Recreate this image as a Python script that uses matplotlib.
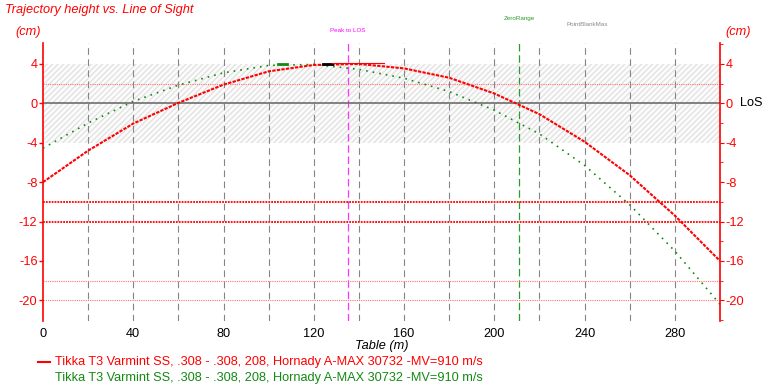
from matplotlib import pyplot as plt
from matplotlib.ticker import MultipleLocator

plt.rcParams['font.family'] = ['Liberation Sans', 'DejaVu Sans']

# range in m
distance = [0, 20, 40, 60, 80, 100, 120, 140, 160, 180, 200, 220, 240, 260, 280, 300]
# trajectory height vs line of sight (cm)
height_red = [-8.0, -4.8, -2.05, 0.05, 1.9, 3.25, 3.9, 4.0, 3.55, 2.6, 1.0, -1.1, -3.9, -7.3, -11.4, -16.0]
height_green = [-4.55, -2.0, 0.2, 1.85, 3.1, 3.85, 3.95, 3.45, 2.55, 1.2, -0.7, -3.1, -6.3, -10.3, -15.0, -20.4]

x_ticks = [0, 40, 80, 120, 160, 200, 240, 280]
y_ticks = [4, 0, -4, -8, -12, -16, -20]
grid_x = list(range(20, 300, 20))

peak_to_los = 135
zero_range = 211
point_blank_max = 241
kill_zone = [-4, 4]
red_levels_thin = [2, -18, -20]
red_levels_bold = [-10, -12]

legend_label = "Tikka T3 Varmint SS, .308 - .308, 208, Hornady A-MAX 30732 -MV=910 m/s"

RED = '#ff0000'
GREEN = '#138a13'
FS = 9.2

fig = plt.figure(figsize=(7.64, 3.89), dpi=100)
ax = fig.add_axes([0.0563, 0.1748, 0.8861, 0.7147])
ax.set_xlim(0, 300)
ax.set_ylim(-22.1, 6.13)

# shaded band around the line of sight
ax.axhspan(kill_zone[0], kill_zone[1], facecolor='#fcfcfc', edgecolor='#e2e2e2',
           hatch='//////', lw=0, zorder=0)

for gx in grid_x:
    ax.axvline(gx, color='#858585', lw=0.8, ls=(0, (6, 4)), zorder=1)
ax.axvline(peak_to_los, color='#ff33ff', lw=0.9, ls=(0, (6, 3)), zorder=1)
ax.axvline(zero_range, color='#2e9a2e', lw=0.9, ls=(0, (6, 3)), zorder=1)

for yl in red_levels_thin:
    ax.axhline(yl, color='#ff7070', lw=0.8, ls=(0, (1, 1)), zorder=1)
for yl in red_levels_bold:
    ax.axhline(yl, color=RED, lw=1.3, ls=(0, (1, 0.6)), zorder=1)
ax.axhline(0, color='#6e6e6e', lw=1.2, zorder=1)

ax.plot(distance, height_green, color=GREEN, lw=1.2, ls=(0, (1, 3)), zorder=3)
ax.plot(distance, height_red, color=RED, lw=1.5, ls=(0, (1.6, 0.6)), zorder=4)

# little peak markers
ax.plot([104, 108], [4, 4], color=GREEN, lw=2, zorder=5)
ax.plot([124, 128], [4, 4], color='black', lw=2, zorder=5)
ax.plot([128, 151], [4.05, 4.05], color=RED, lw=0.8, zorder=5)

ax.text(peak_to_los, 7.35, 'Peak to LOS', color='#ff00ff', fontsize=4.5, ha='center', va='center')
ax.text(zero_range, 8.58, 'ZeroRange', color='#2e9a2e', fontsize=4.5, ha='center', va='center')
ax.text(point_blank_max, 7.97, 'PointBlankMax', color='#8a8a8a', fontsize=4.5, ha='center', va='center')

ax.spines['top'].set_visible(False)
ax.spines['bottom'].set_visible(False)
ax.spines['right'].set_visible(False)
ax.spines['left'].set_color(RED)
ax.spines['left'].set_linewidth(1.2)

ax.set_xticks(x_ticks)
ax.tick_params(axis='x', length=0, pad=5, labelsize=FS)
ax.set_yticks(y_ticks)
ax.set_yticklabels([str(v) for v in y_ticks])
ax.tick_params(axis='y', colors=RED, length=3, pad=1, labelsize=FS, width=1)

ax2 = ax.twinx()
ax2.set_ylim(ax.get_ylim())
for s in ['top', 'bottom', 'left']:
    ax2.spines[s].set_visible(False)
ax2.spines['right'].set_color(RED)
ax2.spines['right'].set_linewidth(1.2)
ax2.set_yticks(y_ticks)
ax2.set_yticklabels([str(v) for v in y_ticks])
ax2.yaxis.set_minor_locator(MultipleLocator(2))
ax2.tick_params(axis='y', which='major', colors=RED, length=3, pad=1, labelsize=FS)
ax2.tick_params(axis='y', which='minor', colors=RED, length=2)
ax2.text(1.03, (0 - ax.get_ylim()[0]) / (ax.get_ylim()[1] - ax.get_ylim()[0]), 'LoS',
         transform=ax2.transAxes, fontsize=FS, va='center', ha='left')

ax.set_xlabel('Table (m)', fontsize=FS, style='italic', labelpad=0)

fig.text(0.007, 0.975, 'Trajectory height vs. Line of Sight', color=RED, fontsize=FS,
         style='italic', va='center')
fig.text(0.02, 0.918, '(cm)', color=RED, fontsize=FS, style='italic', va='center')
fig.text(0.949, 0.918, '(cm)', color=RED, fontsize=FS, style='italic', va='center')

fig.lines.append(plt.Line2D([0.05, 0.065], [0.069, 0.069], color=RED, lw=1.5,
                            transform=fig.transFigure))
fig.text(0.072, 0.069, legend_label, color=RED, fontsize=FS, va='center')
fig.text(0.072, 0.028, legend_label, color=GREEN, fontsize=FS, va='center')

fig.savefig('out.png', dpi=100)
